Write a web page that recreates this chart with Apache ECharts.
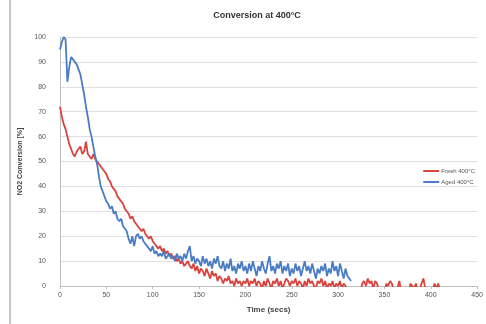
<!DOCTYPE html>
<html><head><meta charset="utf-8">
<script src="https://cdn.jsdelivr.net/npm/echarts@6/dist/echarts.min.js"></script>
<style>html,body{margin:0;padding:0;background:#fff}#c{width:486px;height:324px}</style>
</head><body><div id="c"></div>
<script>
const STEP = 2; // seconds between samples
const xTicks = [0,50,100,150,200,250,300,350,400,450];
const yTicks = [0,10,20,30,40,50,60,70,80,90,100];
const seriesNames = ['Fresh 400°C', 'Aged 400°C'];
// Fresh 400°C, sampled every 2 s from t=0
const fresh = [72,68,65,63,60,57,55,53,52,54,55,56,53,54,58,53,52,51,53,51,
50,49,48,47,46,45,43,42,40,39,38,36,35,34,33,31,30,29,27,28,
26,25,24,23,22,23,21,20,19,20,18,17,16,15,16,14,15,13,14,12,
13,11,12,10,11,9,10,8,9,10,8,7,9,6,8,5,7,6,4,7,
5,3,6,4,5,2,4,3,1,3,2,4,1,2,0,3,1,2,0,2,
1,3,0,2,1,3,0,2,1,-1,2,0,3,1,-1,2,1,3,0,2,
-1,1,3,2,0,2,1,3,0,2,1,-1,2,0,3,1,2,0,-1,2,
1,3,0,2,-1,1,0,2,-1,1,0,2,-1,1,0,-2,-1,-3,-2,-4,
-2,-1,-3,1,2,0,3,1,2,-1,2,1,-2,-3,-1,-4,1,0,2,1,
-2,-3,-1,2,-2,-3,-1,-2,-4,1,0,-1,1,-3,-2,1,3,-1,-3,-2,
-4,-2,1,-1,1,-2,-1];
// Aged 400°C, sampled every 2 s from t=0
const aged = [95,98,100,99,82,88,92,91,90,89,87,85,81,77,72,68,63,60,56,52,
49,44,40,38,36,34,33,31,32,29,30,27,26,27,24,23,22,19,17,20,
16,20,21,19,20,18,17,16,15,14,16,13,14,12,13,12,14,11,12,13,
11,12,10,13,11,12,10,13,11,14,16,10,12,9,11,10,8,12,9,11,
8,10,7,11,9,12,8,7,10,6,9,7,11,6,8,5,9,7,10,6,
8,5,9,6,10,7,4,8,6,10,7,5,9,12,6,8,5,9,7,10,
5,8,6,9,4,7,5,9,6,8,4,7,10,6,8,5,9,6,3,7,
5,8,6,9,4,7,5,10,6,8,4,9,6,3,7,4,3,2];

const toPairs = arr => arr.map((v, i) => [i * STEP, v]);
const chart = echarts.init(document.getElementById('c'), null, {renderer: 'canvas'});
const lbl = {fontFamily: 'Liberation Sans, Arial, sans-serif', fontSize: 7, color: '#555'};
chart.setOption({
  animation: false,
  backgroundColor: '#fff',
  title: {
    text: 'Conversion at 400°C', left: 252, top: 6, textAlign: 'center',
    textStyle: {fontFamily: 'Liberation Sans, Arial, sans-serif', fontSize: 9, fontWeight: 'bold', color: '#333'}
  },
  graphic: [{
    type: 'line', shape: {x1: 10, y1: 0, x2: 10, y2: 324},
    style: {stroke: '#c8c8c8', lineWidth: 2}
  }],
  legend: {
    orient: 'vertical', right: 6, top: 163, itemGap: 5,
    itemWidth: 16, itemHeight: 2, icon: 'rect',
    textStyle: {fontFamily: 'Liberation Sans, Arial, sans-serif', fontSize: 6, color: '#555', padding: [0,0,0,-3]},
    data: seriesNames
  },
  grid: {left: 60, right: 8, top: 37, bottom: 38, containLabel: false},
  xAxis: {
    type: 'value', min: 0, max: 450, interval: 50,
    name: 'Time (secs)', nameLocation: 'middle', nameGap: 20,
    nameTextStyle: {fontFamily: 'Liberation Sans, Arial, sans-serif', fontSize: 8, fontWeight: 'bold', color: '#444'},
    axisLine: {lineStyle: {color: '#bfbfbf'}},
    axisTick: {show: true, length: 3, lineStyle: {color: '#bfbfbf'}},
    axisLabel: Object.assign({margin: 6, formatter: v => xTicks.includes(v) ? String(v) : ''}, lbl),
    splitLine: {show: false}
  },
  yAxis: {
    type: 'value', min: 0, max: 100, interval: 10,
    name: 'NO2 Conversion [%]', nameLocation: 'middle', nameGap: 30,
    nameTextStyle: {fontFamily: 'Liberation Sans, Arial, sans-serif', fontSize: 7, fontWeight: 'bold', color: '#444'},
    axisLine: {show: true, lineStyle: {color: '#bfbfbf'}},
    axisTick: {show: false},
    axisLabel: Object.assign({margin: 14, formatter: v => yTicks.includes(v) ? String(v) : ''}, lbl),
    splitLine: {lineStyle: {color: '#e0e0e0', width: 1}}
  },
  series: [
    {name: seriesNames[0], type: 'line', data: toPairs(fresh), showSymbol: false, clip: true,
     lineStyle: {color: '#d9433e', width: 1.8}, itemStyle: {color: '#d9433e'}, z: 2},
    {name: seriesNames[1], type: 'line', data: toPairs(aged), showSymbol: false, clip: true,
     lineStyle: {color: '#4a7cc4', width: 1.8}, itemStyle: {color: '#4a7cc4'}, z: 3}
  ]
});
</script>
</body></html>
